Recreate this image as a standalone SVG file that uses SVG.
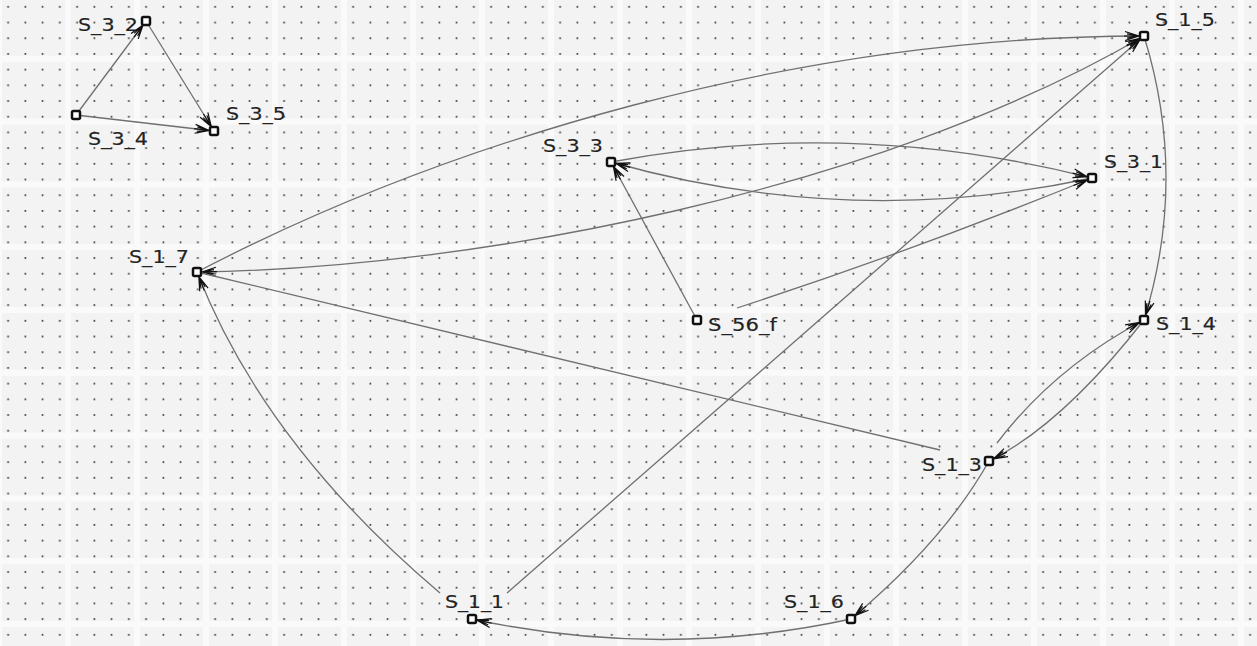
<svg xmlns="http://www.w3.org/2000/svg" width="1257" height="646" viewBox="0 0 1257 646">
  <defs>
    <pattern id="blocks" patternUnits="userSpaceOnUse" x="-1" y="-4" width="69" height="62.8">
      <rect width="69" height="62.8" fill="#fafafa"/>
      <rect x="3" y="3" width="63" height="56.8" fill="#f3f3f3"/>
    </pattern>
    <pattern id="dots" patternUnits="userSpaceOnUse" x="0" y="0" width="17.25" height="15.7">
      <rect x="7.3" y="6" width="1.6" height="1.6" fill="#222"/>
    </pattern>
    <marker id="arr" markerUnits="userSpaceOnUse" viewBox="-16 -6 20 12" markerWidth="20" markerHeight="12" refX="5" refY="0" orient="auto-start-reverse" overflow="visible">
      <path d="M-14,-4.5 L0,0 L-14,4.5 M-12,-2.2 L0,0 L-12,2.2 M-15,0 L0,0" fill="none" stroke="#111" stroke-width="1.2"/>
    </marker>
    <style>
      .edge { fill: none; stroke: #707070; stroke-width: 1.3; }
      .arr { marker-end: url(#arr); }
      .node rect { fill: #ffffff; stroke: #111; stroke-width: 2.5; }
      .node text { font-family: "DejaVu Sans", Verdana, sans-serif; font-size: 18px; fill: #222; stroke: #222; stroke-width: 0.15; }
    </style>
  </defs>

  <rect width="1257" height="646" fill="url(#blocks)"/>
  <rect width="1257" height="646" fill="url(#dots)"/>

  <g id="connectors">
    <path class="edge arr" d="M76,115 L146,21"/>
    <path class="edge arr" d="M146,21 L214,131"/>
    <path class="edge arr" d="M76,115 L214,131"/>
    <path class="edge arr" d="M197,272 C447,142 794,36 1144,36"/>
    <path class="edge arr" style="marker-start:url(#arr)" d="M197,272 C480,268 880,190 1144,36"/>
    <path class="edge" d="M197,272 L940,450"/>
    <path class="edge arr" d="M611,162 Q852,117 1092,178"/>
    <path class="edge arr" d="M1092,178 Q851,230 611,162"/>
    <path class="edge arr" d="M697,320 L611,162"/>
    <path class="edge arr" d="M737,308 Q915,250 1092,178"/>
    <path class="edge arr" d="M507,593 L1144,36"/>
    <path class="edge arr" d="M440,593 Q264,444 197,272"/>
    <path class="edge arr" d="M851,619 Q662,660 472,619"/>
    <path class="edge arr" d="M1144,36 Q1188,178 1144,320"/>
    <path class="edge arr" d="M997,443 Q1055,367 1144,320"/>
    <path class="edge arr" d="M1144,320 Q1062,425 989,461"/>
    <path class="edge arr" d="M989,461 Q944,541 851,619"/>
  </g>

  <g id="S_3_2" class="node"><rect x="142" y="17" width="8" height="8" rx="1.5"/><text x="78" y="31" textLength="60" lengthAdjust="spacingAndGlyphs">S_3_2</text></g>
  <g id="S_3_4" class="node"><rect x="72" y="111" width="8" height="8" rx="1.5"/><text x="88" y="145" textLength="60" lengthAdjust="spacingAndGlyphs">S_3_4</text></g>
  <g id="S_3_5" class="node"><rect x="210" y="127" width="8" height="8" rx="1.5"/><text x="226" y="120" textLength="60" lengthAdjust="spacingAndGlyphs">S_3_5</text></g>
  <g id="S_3_3" class="node"><rect x="607" y="158" width="8" height="8" rx="1.5"/><text x="543" y="152" textLength="60" lengthAdjust="spacingAndGlyphs">S_3_3</text></g>
  <g id="S_3_1" class="node"><rect x="1088" y="174" width="8" height="8" rx="1.5"/><text x="1104" y="168" textLength="59" lengthAdjust="spacingAndGlyphs">S_3_1</text></g>
  <g id="S_1_5" class="node"><rect x="1140" y="32" width="8" height="8" rx="1.5"/><text x="1155" y="26" textLength="60" lengthAdjust="spacingAndGlyphs">S_1_5</text></g>
  <g id="S_1_7" class="node"><rect x="193" y="268" width="8" height="8" rx="1.5"/><text x="129" y="263" textLength="60" lengthAdjust="spacingAndGlyphs">S_1_7</text></g>
  <g id="S_56_f" class="node"><rect x="693" y="316" width="8" height="8" rx="1.5"/><text x="708" y="331" textLength="69" lengthAdjust="spacingAndGlyphs">S_56_f</text></g>
  <g id="S_1_4" class="node"><rect x="1140" y="316" width="8" height="8" rx="1.5"/><text x="1156" y="330" textLength="60" lengthAdjust="spacingAndGlyphs">S_1_4</text></g>
  <g id="S_1_3" class="node"><rect x="985" y="457" width="8" height="8" rx="1.5"/><text x="922" y="471" textLength="60" lengthAdjust="spacingAndGlyphs">S_1_3</text></g>
  <g id="S_1_1" class="node"><rect x="468" y="615" width="8" height="8" rx="1.5"/><text x="445" y="608" textLength="59" lengthAdjust="spacingAndGlyphs">S_1_1</text></g>
  <g id="S_1_6" class="node"><rect x="847" y="615" width="8" height="8" rx="1.5"/><text x="784" y="608" textLength="60" lengthAdjust="spacingAndGlyphs">S_1_6</text></g>
</svg>
